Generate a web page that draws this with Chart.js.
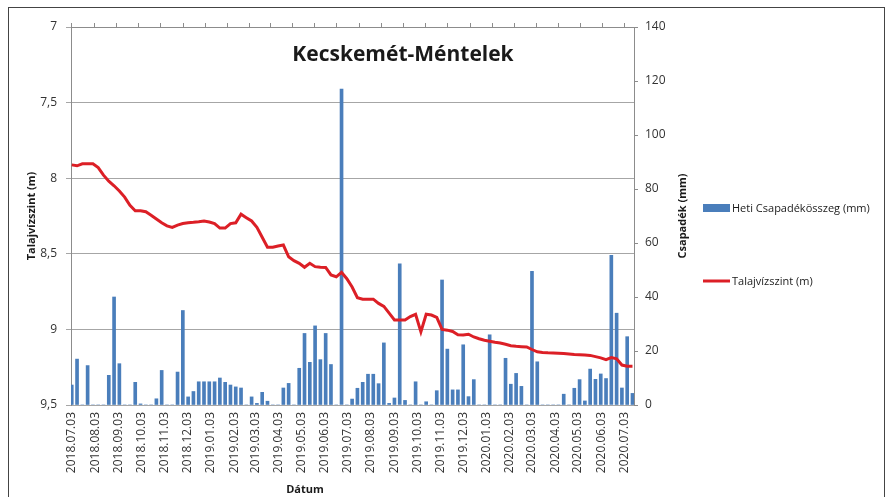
<!DOCTYPE html>
<html>
<head>
<meta charset="utf-8">
<script src="https://cdn.jsdelivr.net/npm/chart.js@4/dist/chart.umd.min.js"></script>
<style>
  body { margin: 0; background: #fff; }
  #wrap { position: relative; width: 887px; height: 497px; overflow: hidden; }
  #frame { position: absolute; left: 8px; top: 7px; width: 875px; height: 500px; border: 1px solid #444; pointer-events: none; }
  canvas { position: absolute; left: 0; top: 0; }
</style>
</head>
<body>
<div id="wrap">
  <canvas id="graf-talajviz" width="887" height="497"></canvas>
  <div id="frame"></div>
</div>
<script>
// heti adatok (kedd), 2018.07.03-tól
const datumok = [
  "2018.07.03","2018.07.10","2018.07.17","2018.07.24","2018.07.31","2018.08.07","2018.08.14","2018.08.21","2018.08.28","2018.09.04",
  "2018.09.11","2018.09.18","2018.09.25","2018.10.02","2018.10.09","2018.10.16","2018.10.23","2018.10.30","2018.11.06","2018.11.13",
  "2018.11.20","2018.11.27","2018.12.04","2018.12.11","2018.12.18","2018.12.25","2019.01.01","2019.01.08","2019.01.15","2019.01.22",
  "2019.01.29","2019.02.05","2019.02.12","2019.02.19","2019.02.26","2019.03.05","2019.03.12","2019.03.19","2019.03.26","2019.04.02",
  "2019.04.09","2019.04.16","2019.04.23","2019.04.30","2019.05.07","2019.05.14","2019.05.21","2019.05.28","2019.06.04","2019.06.11",
  "2019.06.18","2019.06.25","2019.07.02","2019.07.09","2019.07.16","2019.07.23","2019.07.30","2019.08.06","2019.08.13","2019.08.20",
  "2019.08.27","2019.09.03","2019.09.10","2019.09.17","2019.09.24","2019.10.01","2019.10.08","2019.10.15","2019.10.22","2019.10.29",
  "2019.11.05","2019.11.12","2019.11.19","2019.11.26","2019.12.03","2019.12.10","2019.12.17","2019.12.24","2019.12.31","2020.01.07",
  "2020.01.14","2020.01.21","2020.01.28","2020.02.04","2020.02.11","2020.02.18","2020.02.25","2020.03.03","2020.03.10","2020.03.17",
  "2020.03.24","2020.03.31","2020.04.07","2020.04.14","2020.04.21","2020.04.28","2020.05.05","2020.05.12","2020.05.19","2020.05.26",
  "2020.06.02","2020.06.09","2020.06.16","2020.06.23","2020.06.30","2020.07.07","2020.07.14"
];

const csapadek = [
  7.4, 17, 0, 14.6, 0, 0, 0, 11, 40, 15.3,
  0, 0, 8.4, 0.4, 0, 0, 2.3, 12.8, 0, 0,
  12.2, 35, 3, 5, 8.6, 8.6, 8.6, 8.6, 10, 8.4,
  7.4, 6.7, 6.3, 0, 3, 0.6, 4.7, 1.4, 0, 0,
  6.3, 8, 0, 13.6, 26.5, 15.8, 29.3, 16.8, 26.5, 15,
  0, 117, 0, 2.2, 6.2, 8.4, 11.4, 11.4, 7.9, 23,
  0.6, 2.6, 52.3, 1.7, 0, 8.6, 0, 1.2, 0, 5.3,
  46.3, 20.7, 5.6, 5.6, 22.3, 3.1, 9.4, 0, 0, 26,
  0, 0, 17.3, 7.7, 11.7, 6.9, 0, 49.5, 16, 0,
  0, 0, 0, 4, 0, 6.2, 9.4, 1.5, 13.3, 9.5,
  11.5, 9.8, 55.4, 34, 6.3, 25.3, 4.3
];

const talajviz = [
  7.912, 7.918, 7.905, 7.905, 7.905, 7.93, 7.98, 8.02, 8.05, 8.085,
  8.125, 8.18, 8.215, 8.215, 8.222, 8.245, 8.27, 8.295, 8.315, 8.325,
  8.31, 8.30, 8.295, 8.292, 8.288, 8.283, 8.29, 8.30, 8.33, 8.33,
  8.30, 8.295, 8.238, 8.261, 8.283, 8.325, 8.39, 8.457, 8.457, 8.448,
  8.442, 8.52, 8.545, 8.563, 8.589, 8.563, 8.585, 8.589, 8.59, 8.64,
  8.652, 8.623, 8.665, 8.72, 8.79, 8.80, 8.80, 8.80, 8.828, 8.848,
  8.892, 8.938, 8.938, 8.938, 8.915, 8.90, 9.016, 8.90, 8.905, 8.921,
  9.0, 9.005, 9.014, 9.035, 9.037, 9.032, 9.05, 9.062, 9.072, 9.078,
  9.085, 9.09, 9.098, 9.108, 9.112, 9.114, 9.116, 9.133, 9.148, 9.152,
  9.155, 9.156, 9.158, 9.16, 9.163, 9.166, 9.168, 9.17, 9.172, 9.18,
  9.188, 9.20, 9.186, 9.195, 9.236, 9.243, 9.243
];

const honapCimkek = [
  "2018.07.03","2018.08.03","2018.09.03","2018.10.03","2018.11.03","2018.12.03",
  "2019.01.03","2019.02.03","2019.03.03","2019.04.03","2019.05.03","2019.06.03",
  "2019.07.03","2019.08.03","2019.09.03","2019.10.03","2019.11.03","2019.12.03",
  "2020.01.03","2020.02.03","2020.03.03","2020.04.03","2020.05.03","2020.06.03","2020.07.03"
];

// napok a kezdő dátumtól
function napSzam(s) {
  const [e, h, n] = s.split(".").map(Number);
  return (Date.UTC(e, h - 1, n) - Date.UTC(2018, 6, 3)) / 86400000;
}

const FONT = "'Open Sans', sans-serif";

function honapTickek(scale) {
  scale.ticks = honapCimkek.map(c => ({ value: napSzam(c) }));
}

// cím, tengelycímek és jelmagyarázat a diagram mellé
const feliratok = {
  id: "feliratok",
  afterDraw(chart) {
    const ctx = chart.ctx;
    const a = chart.chartArea;
    ctx.save();
    ctx.fillStyle = "#1a1a1a";
    ctx.textAlign = "center";
    ctx.textBaseline = "middle";
    ctx.font = "bold 21px " + FONT;
    ctx.fillText("Kecskemét-Méntelek", a.left + 332, a.top + 28);
    ctx.font = "bold 11px " + FONT;
    ctx.fillText("Dátum", a.left + 234, 490);

    // jelmagyarázat
    const lx = a.right + 69;
    ctx.textAlign = "left";
    ctx.font = "11px " + FONT;
    chart.data.datasets.forEach((ds, i) => {
      const ly = 208 + i * 73;
      if (ds.type === "line") {
        ctx.strokeStyle = ds.borderColor;
        ctx.lineWidth = ds.borderWidth;
        ctx.beginPath();
        ctx.moveTo(lx, ly);
        ctx.lineTo(lx + 27, ly);
        ctx.stroke();
      } else {
        ctx.fillStyle = ds.backgroundColor;
        ctx.fillRect(lx, ly - 4, 27, 8);
      }
      ctx.fillStyle = "#1a1a1a";
      ctx.fillText(ds.label, lx + 29, ly + 1);
    });

    ctx.font = "bold 11px " + FONT;
    ctx.textAlign = "center";
    ctx.translate(a.right + 49, (a.top + a.bottom) / 2);
    ctx.rotate(-Math.PI / 2);
    ctx.fillText("Csapadék (mm)", 0, 0);
    ctx.restore();
  }
};

new Chart("graf-talajviz", {
  type: "bar",
  data: {
    datasets: [{
      label: "Heti Csapadékösszeg (mm)",
      data: datumok.map((d, i) => ({ x: napSzam(d), y: csapadek[i] })),
      backgroundColor: "#4a7ebb",
      barThickness: 3,
      yAxisID: "y1",
      xAxisID: "x",
      order: 1
    }, {
      type: "line",
      label: "Talajvízszint (m)",
      data: datumok.map((d, i) => ({ x: napSzam(d), y: talajviz[i] })),
      borderColor: "#dc1f26",
      backgroundColor: "#dc1f26",
      borderWidth: 3,
      pointRadius: 0,
      tension: 0,
      yAxisID: "y",
      xAxisID: "x",
      order: 0
    }]
  },
  options: {
    responsive: false,
    animation: false,
    layout: { padding: { left: 0, right: 187, top: 23, bottom: 0 } },
    plugins: {
      title: { display: false },
      tooltip: { enabled: false },
      legend: { display: false }
    },
    scales: {
      x: {
        type: "linear",
        position: "bottom",
        min: -1,
        max: 744,
        offset: false,
        afterBuildTicks: honapTickek,
        afterFit: s => { s.height = 92; },
        grid: { display: false, drawTicks: false },
        border: { display: false },
        ticks: {
          autoSkip: false,
          minRotation: 90,
          maxRotation: 90,
          padding: 7,
          color: "#333",
          font: { family: FONT, size: 12 },
          callback: (v, i) => honapCimkek[i]
        }
      },
      xTop: {
        type: "linear",
        position: "top",
        min: -1,
        max: 744,
        afterBuildTicks: honapTickek,
        afterFit: s => { s.height = 4; },
        grid: { drawOnChartArea: false, tickLength: 4, color: "#8c8c8c" },
        border: { color: "#8c8c8c" },
        ticks: { display: false }
      },
      y: {
        position: "left",
        reverse: true,
        min: 7,
        max: 9.5,
        afterFit: s => { s.width = 71; },
        grid: { color: "#a6a6a6", tickLength: 5 },
        border: { color: "#8c8c8c" },
        ticks: {
          stepSize: 0.5,
          padding: 9,
          color: "#333",
          font: { family: FONT, size: 12 },
          callback: v => String(v).replace(".", ",")
        },
        title: {
          display: true,
          text: "Talajvízszint (m)",
          color: "#1a1a1a",
          padding: { top: 25, bottom: 0 },
          font: { family: FONT, size: 11, weight: "bold" }
        }
      },
      y1: {
        position: "right",
        min: 0,
        max: 140,
        afterFit: s => { s.width = 66; },
        grid: { drawOnChartArea: false, tickLength: 4, color: "#8c8c8c" },
        border: { color: "#8c8c8c" },
        ticks: {
          stepSize: 20,
          padding: 7,
          color: "#333",
          font: { family: FONT, size: 12 }
        }
      }
    }
  },
  plugins: [feliratok]
});
</script>
</body>
</html>
